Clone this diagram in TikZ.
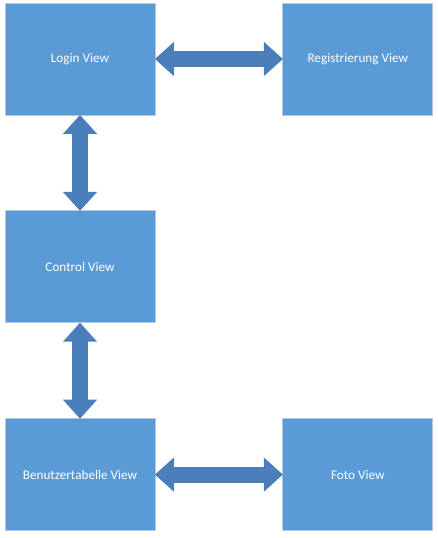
\documentclass[tikz,border=0pt]{standalone}
\usepackage{fontspec}
\setmainfont{Carlito}
\usepackage{tikz}
\usetikzlibrary{positioning, arrows.meta}
\usepackage{xcolor}
\definecolor{boxblue}{HTML}{5B9BD5}
\definecolor{boxedge}{HTML}{B4C7E7}
\definecolor{arrowblue}{HTML}{4A7EBB}

\begin{document}
\begin{tikzpicture}[
    view/.style={rectangle, draw=boxedge, line width=0.8pt, fill=boxblue,
      minimum width=150pt, minimum height=112pt, inner sep=0pt,
      text=white, font=\fontsize{13.2}{16}\selectfont},
    link/.style={line width=16pt, draw=arrowblue,
      {Triangle[length=19pt, width=33pt]}-{Triangle[length=19pt, width=33pt]},
      shorten <=-0.5pt, shorten >=-0.5pt},
    node distance=95pt and 127pt]
    \useasboundingbox (0,0) rectangle (438pt,-538pt);
    \node[view] (login) at (80pt,-59pt) {Login View};
    \node[view, right=of login] (reg) {Registrierung View};
    \node[view, below=of login] (control) {Control View};
    \node[view, below=of control] (users) {Benutzertabelle View};
    \node[view, right=of users] (foto) {Foto View};
    \draw[link] (login) -- (reg);
    \draw[link] (login) -- (control);
    \draw[link] (control) -- (users);
    \draw[link] (users) -- (foto);
  \end{tikzpicture}
\end{document}
